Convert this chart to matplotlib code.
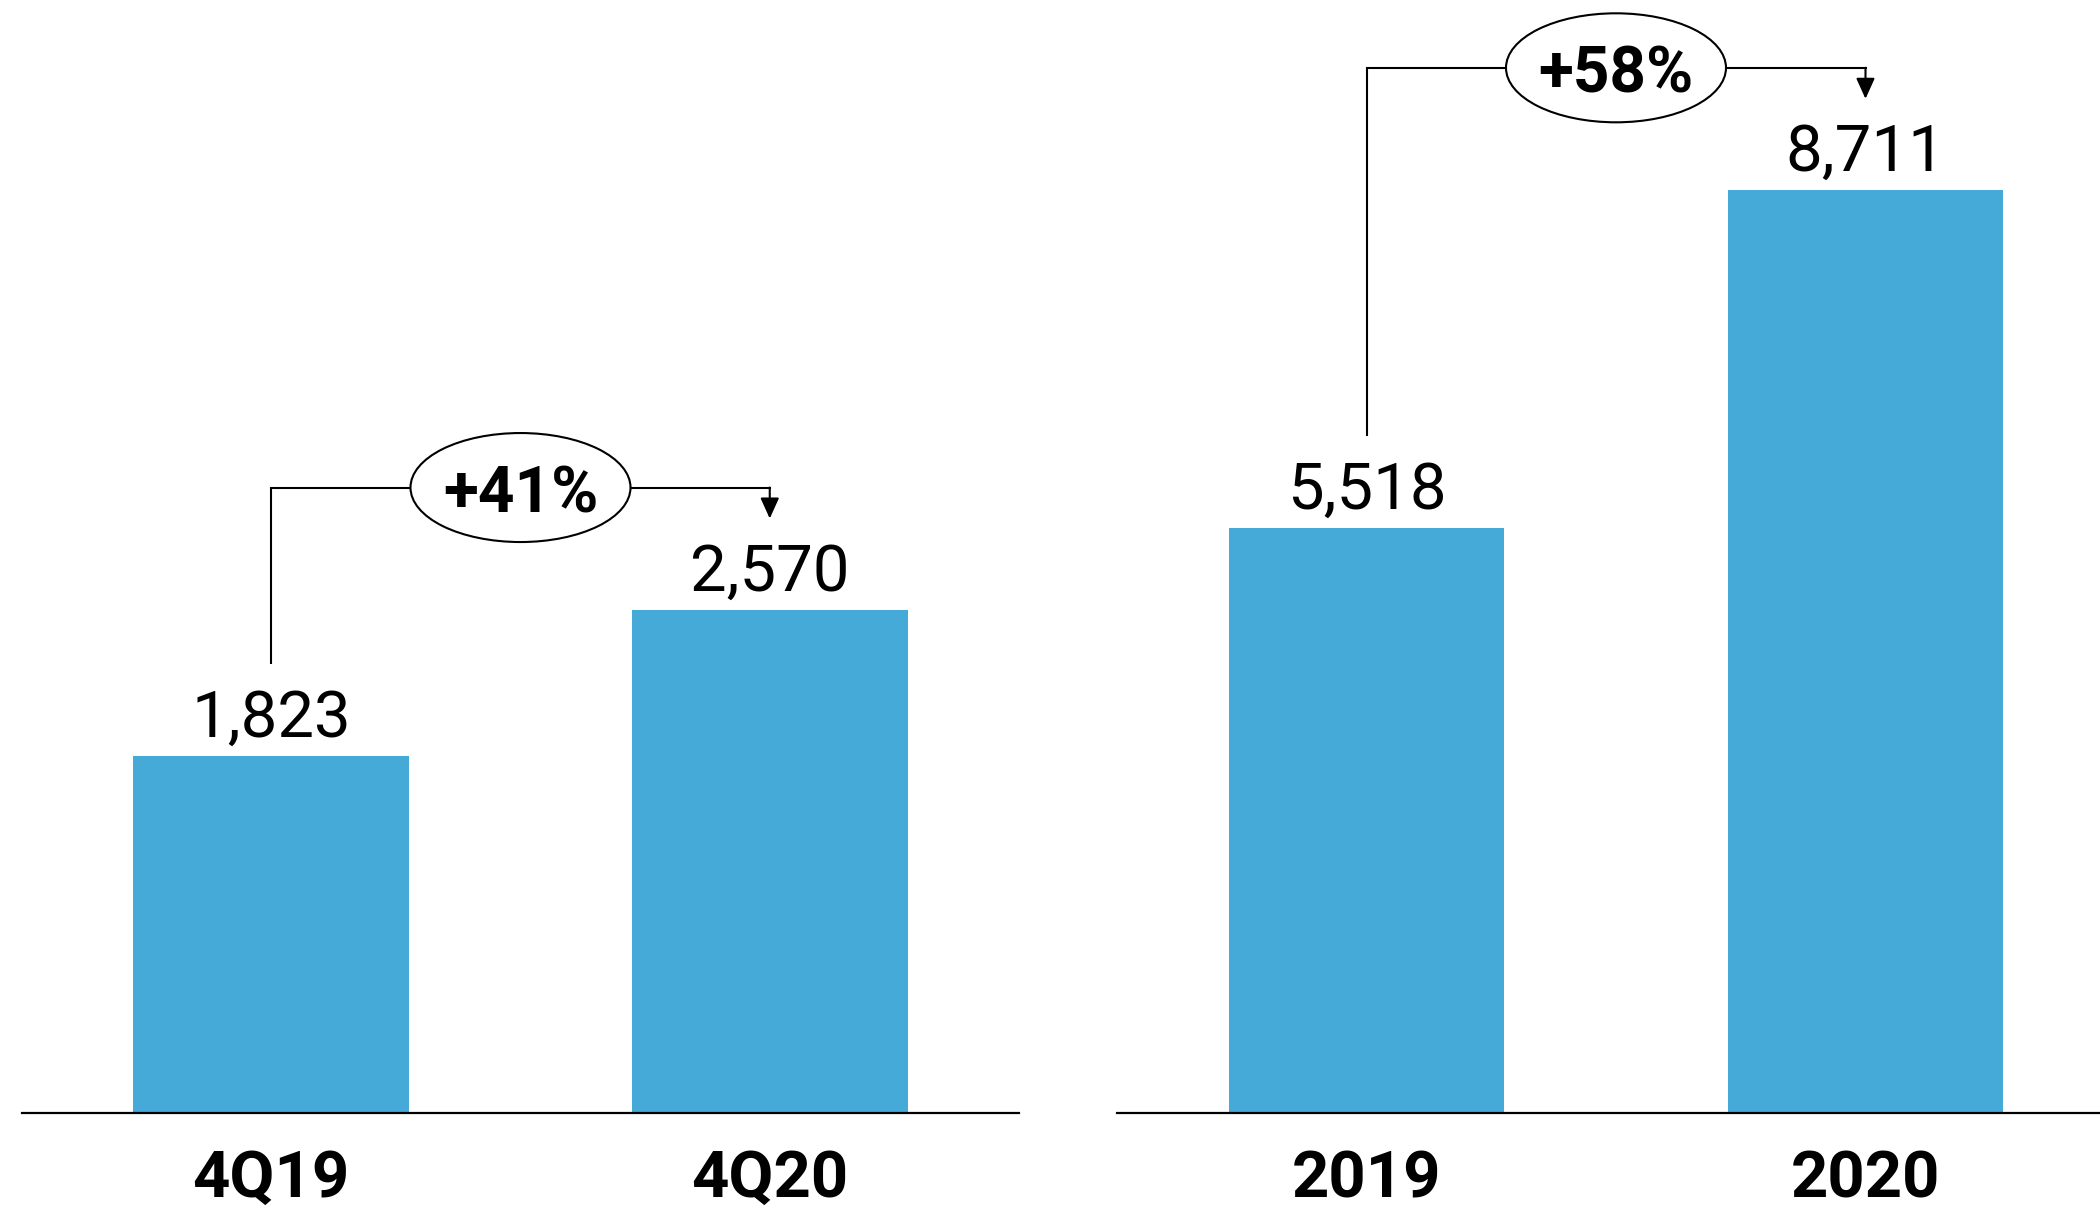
import matplotlib
matplotlib.use("Agg")
import matplotlib.pyplot as plt
from matplotlib.patches import Ellipse

# ---- data ----
left_categories = ["4Q19", "4Q20"]
left_values = [1823, 2570]
left_change = "+41%"

right_categories = ["2019", "2020"]
right_values = [5518, 8711]
right_change = "+58%"

BAR_COLOR = "#45aad8"
DPI = 100
FIG_W, FIG_H = 2100, 1208

plt.rcParams['font.family'] = ['Roboto', 'DejaVu Sans']

fig = plt.figure(figsize=(FIG_W / DPI, FIG_H / DPI), dpi=DPI)

base_px = 1113  # axis line, px from top
ax_bottom = (FIG_H - base_px) / FIG_H
ax_height = base_px / FIG_H

axL = fig.add_axes([22 / FIG_W, ax_bottom, 997 / FIG_W, ax_height])
axR = fig.add_axes([1117 / FIG_W, ax_bottom, 998 / FIG_W, ax_height])

PX2PT = 72 / DPI


def panel(ax, cats, vals, change, ytop):
    x = list(range(len(cats)))
    ax.bar(x, vals, width=0.553, color=BAR_COLOR, zorder=2)
    ax.set_xlim(-0.5, 1.5)
    ax.set_ylim(0, ytop)
    for s in ["top", "left", "right"]:
        ax.spines[s].set_visible(False)
    ax.spines["bottom"].set_linewidth(1.6)
    ax.spines["bottom"].set_color("black")
    ax.spines["bottom"].set_zorder(3)
    ax.set_yticks([])
    ax.set_xticks(x)
    ax.set_xticklabels(cats, fontsize=47, fontweight="bold")
    ax.tick_params(axis="x", length=0, pad=84 * PX2PT)
    for lab in ax.get_xticklabels():
        lab.set_va("baseline")
    ax.patch.set_alpha(0)

    # value labels
    for xi, v in zip(x, vals):
        ax.annotate(f"{v:,}", (xi, v), xytext=(0, 19 * PX2PT),
                    textcoords="offset points", ha="center", va="baseline",
                    fontsize=47)

    # growth bracket (pixel offsets converted to data units)
    ppu = ax.transData.transform((0, 1))[1] - ax.transData.transform((0, 0))[1]
    ppx = ax.transData.transform((1, 0))[0] - ax.transData.transform((0, 0))[0]
    top = max(vals)
    start = vals[0] + 92 / ppu
    tip = vals[1] + 91 / ppu
    hline = top + 122 / ppu
    lw = 1.5
    ax.plot([x[0], x[0], x[1], x[1]], [start, hline, hline, hline - 1 / ppu],
            color="black", lw=lw, clip_on=False, zorder=4,
            solid_joinstyle="miter", solid_capstyle="butt")
    ax.annotate("", xy=(x[1], tip), xytext=(x[1], hline),
                arrowprops=dict(arrowstyle="-|>,head_length=0.42,head_width=0.19",
                                mutation_scale=30, lw=lw, color="black",
                                shrinkA=0, shrinkB=0),
                annotation_clip=False, zorder=4)
    xm = (x[0] + x[1]) / 2
    ell = Ellipse((xm, hline), width=220 / ppx, height=109 / ppu,
                  facecolor="white", edgecolor="black", lw=lw,
                  clip_on=False, zorder=5)
    ax.add_patch(ell)
    ax.annotate(change, (xm, hline), xytext=(0, -25 * PX2PT),
                textcoords="offset points", ha="center", va="baseline",
                fontsize=46, fontweight="bold", zorder=6,
                annotation_clip=False)


panel(axL, left_categories, left_values, left_change, 1113 / 0.1959)
panel(axR, right_categories, right_values, right_change, 1113 / 0.10598)

fig.savefig("out.png", dpi=DPI)
